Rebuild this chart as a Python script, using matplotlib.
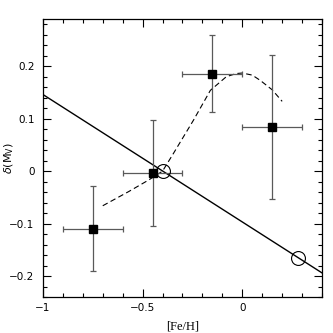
import numpy as np
import matplotlib
matplotlib.use("Agg")
import matplotlib.pyplot as plt
from matplotlib.ticker import MultipleLocator, FixedLocator

# binned points with error bars
feh = [-0.75, -0.45, -0.15, 0.15]
delta = [-0.110, -0.003, 0.186, 0.084]
feh_err = [0.15, 0.15, 0.15, 0.15]
delta_err = [0.081, 0.101, 0.074, 0.138]

# linear relation (solid line)
line_x = [-1.0, 0.4]
line_y = [0.146, -0.194]

# open circles on the line
circ_x = [-0.40, 0.28]
circ_y = [0.0, -0.165]

# dashed curve
curve_x = [-0.70, -0.57, -0.47, -0.40, -0.345, -0.245, -0.16, -0.08, -0.03, 0.0, 0.05, 0.09, 0.15, 0.20]
curve_y = [-0.066, -0.039, -0.017, 0.0, 0.034, 0.097, 0.154, 0.180, 0.186, 0.187, 0.183, 0.173, 0.155, 0.133]

x_ticks = [-1, -0.5, 0]
x_labels = ["\u22121", "\u22120.5", "0"]
y_ticks = [-0.2, -0.1, 0, 0.1, 0.2]
y_labels = ["\u22120.2", "\u22120.1", "0", "0.1", "0.2"]

fig = plt.figure(figsize=(3.33, 3.33), dpi=100)
ax = fig.add_axes([0.129, 0.108, 0.838, 0.835])

ax.plot(line_x, line_y, color="black", lw=1.0)
ax.plot(curve_x, curve_y, color="black", lw=0.8, dashes=(5, 3))
ax.errorbar(feh, delta, xerr=feh_err, yerr=delta_err, fmt="s", color="black",
            ms=6, ecolor="0.35", elinewidth=0.9, capsize=2, capthick=0.9)
ax.plot(circ_x, circ_y, "o", ms=10, mfc="none", mec="black", mew=0.8)

ax.set_xlim(-1, 0.4)
ax.set_ylim(-0.24, 0.29)
ax.xaxis.set_major_locator(FixedLocator(x_ticks))
ax.set_xticklabels(x_labels)
ax.yaxis.set_major_locator(FixedLocator(y_ticks))
ax.set_yticklabels(y_labels)
ax.xaxis.set_minor_locator(MultipleLocator(0.1))
ax.yaxis.set_minor_locator(MultipleLocator(0.02))
ax.tick_params(which="both", direction="in", top=True, right=True, labelsize=7.5, width=0.8)
ax.tick_params(which="major", length=6)
ax.tick_params(which="minor", length=3)
ax.tick_params(axis="y", pad=6)
ax.tick_params(axis="x", pad=4)
for s in ax.spines.values():
    s.set_linewidth(0.9)

ax.set_xlabel("[Fe/H]", fontsize=9, family="Liberation Serif")
ax.xaxis.set_label_coords(0.5, -0.085)
ax.set_ylabel(r"$\delta$(M$_{\rm V}$)", fontsize=8)
ax.yaxis.set_label_coords(-0.095, 0.5)

fig.savefig("out.png", dpi=100)
